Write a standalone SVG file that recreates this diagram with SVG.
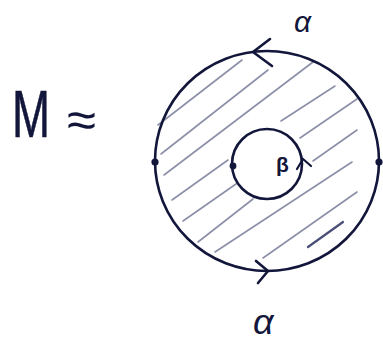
<svg xmlns="http://www.w3.org/2000/svg" width="383" height="343" viewBox="0 0 383 343">
<style>
.ink{fill:none;stroke:#12163a;stroke-width:2.6;stroke-linecap:round;stroke-linejoin:round}
.hatch{fill:none;stroke:#8c8fa8;stroke-width:1.6;stroke-linecap:round}
.dot{fill:#12163a}
.txt{font-family:"Liberation Sans","DejaVu Sans",sans-serif;fill:#12163a}
</style>
<rect width="383" height="343" fill="#ffffff"/>
<g id="hatching">
<path class="hatch" d="M158,125L242,60M161,154L268,70M164,175L313,62M172,200L228,160M281,121L335,86M183,221L236,184M300,138L357,99M198,242L253,199M313,161L357,130M215,252L352,162M263,258L357,192"/>
<path class="hatch" d="M308,247L343,222" style="stroke:#4a4f78;stroke-width:2.2"/>
</g>
<g id="outer-circle">
<ellipse class="ink" cx="267" cy="161" rx="112" ry="110"/>
<circle class="dot" cx="155" cy="162" r="3.6"/>
<circle class="dot" cx="379" cy="162" r="3.6"/>
</g>
<g id="inner-circle">
<circle class="ink" cx="267" cy="164" r="35"/>
<circle class="dot" cx="233" cy="166" r="3.4"/>
</g>
<g id="connectors">
<path class="ink" d="M270,39L253,52L272,66"/>
<path class="ink" d="M256,261L268,271L258,283"/>
<path class="ink" d="M297,169L303,159L311,166" style="stroke-width:2.2"/>
</g>
<g id="labels">
<text class="txt" x="12" y="137" font-size="66" textLength="38" lengthAdjust="spacingAndGlyphs" stroke="#12163a" stroke-width="0.6">M</text>
<text class="txt" x="67" y="137" font-size="50" textLength="29" lengthAdjust="spacingAndGlyphs">≈</text>
<text class="txt" x="294" y="32" font-size="30" font-style="italic">α</text>
<text class="txt" x="253" y="334" font-size="36" font-style="italic">α</text>
<text class="txt" x="276" y="172" font-size="21" font-weight="bold">β</text>
</g>
</svg>
